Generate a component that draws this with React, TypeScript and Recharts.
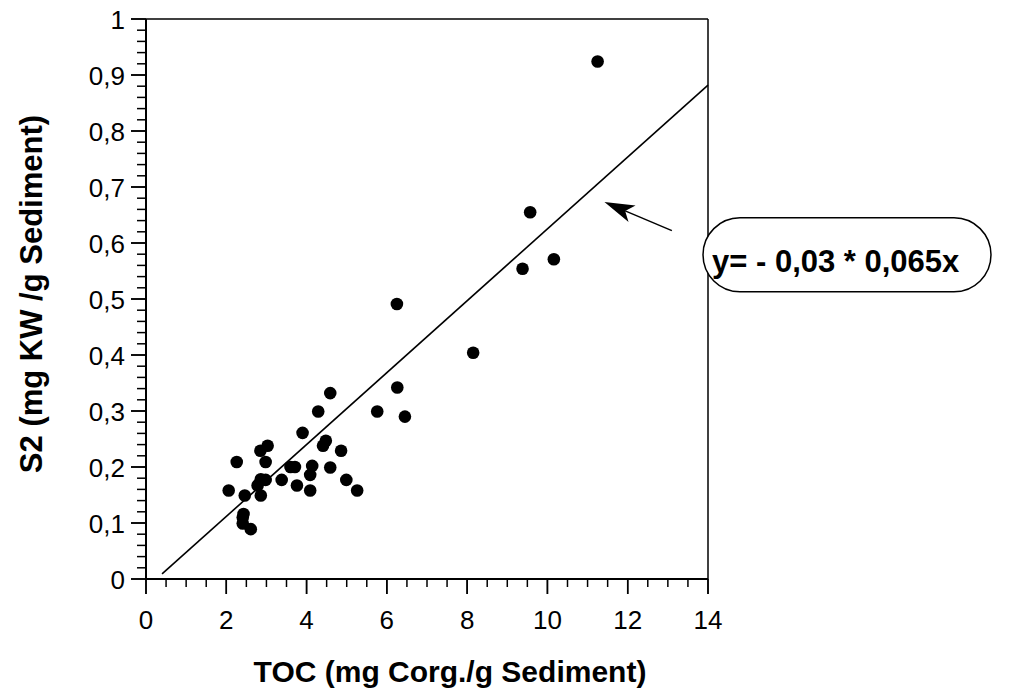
import React from 'react';
import {
  ScatterChart,
  Scatter,
  XAxis,
  YAxis,
  ReferenceLine,
  ReferenceDot,
} from 'recharts';

// TOC (mg Corg./g Sediment) of each sample
const tocValues = [
  4.59, 4.29, 3.9, 4.48, 4.41, 4.86, 3.03, 2.85, 2.26, 2.98,
  3.6, 3.71, 4.14, 4.59, 4.09, 3.38, 2.98, 2.86, 2.78, 4.99,
  3.76, 4.09, 5.26, 2.06, 2.46, 2.86, 2.43, 2.41, 2.41, 2.61,
  6.25, 8.15, 6.26, 5.76, 6.45, 11.25, 9.57, 10.16, 9.38,
];

// S2 (mg KW /g Sediment) of each sample
const s2Values = [
  0.332, 0.299, 0.261, 0.247, 0.238, 0.229, 0.238, 0.229, 0.209, 0.209,
  0.2, 0.2, 0.202, 0.199, 0.186, 0.177, 0.177, 0.178, 0.167, 0.177,
  0.167, 0.158, 0.158, 0.158, 0.149, 0.149, 0.116, 0.11, 0.099, 0.089,
  0.491, 0.404, 0.342, 0.299, 0.29, 0.924, 0.655, 0.571, 0.554,
];

// regression line end points
const fitToc = [0.4, 14];
const fitS2 = [0.009, 0.882];

// arrow pointing at the regression line
const arrowToc = [13.1, 11.42];
const arrowS2 = [0.622, 0.673];

const equationText = 'y= - 0,03 * 0,065x';
const equationAnchor = { toc: 14, s2: 0.579 };

const xMajorTicks = [0, 2, 4, 6, 8, 10, 12, 14];
const xTickLabels = ['0', '2', '4', '6', '8', '10', '12', '14'];
const xMinorStep = 0.5;

const yMajorTicks = [0, 0.1, 0.2, 0.3, 0.4, 0.5, 0.6, 0.7, 0.8, 0.9, 1];
const yTickLabels = ['0', '0,1', '0,2', '0,3', '0,4', '0,5', '0,6', '0,7', '0,8', '0,9', '1'];
const yMinorStep = 0.02;

const xTitle = 'TOC (mg Corg./g Sediment)';
const yTitle = 'S2 (mg KW /g Sediment)';

const FONT = '"Liberation Sans", Arial, Helvetica, sans-serif';

// outward tick lengths, in axis units (about 15 px long, 8-9 px short)
const X_TICK_LONG = 0.0268;
const X_TICK_SHORT = 0.0143;
const Y_TICK_LONG = 0.374;
const Y_TICK_SHORT = 0.224;

const points = tocValues.map((toc, i) => ({ toc, s2: s2Values[i] }));

const xAllTicks = Array.from(
  { length: Math.round(xMajorTicks[xMajorTicks.length - 1] / xMinorStep) + 1 },
  (_, i) => i * xMinorStep,
);
const yAllTicks = Array.from(
  { length: Math.round(yMajorTicks[yMajorTicks.length - 1] / yMinorStep) + 1 },
  (_, i) => Math.round(i * yMinorStep * 1000) / 1000,
);

const majorIndex = (v: number, majors: number[]) =>
  majors.findIndex((m) => Math.abs(m - v) < 1e-6);

// tick labels; the axis passes the outer end of its 15 px tick line
const XLabel = (props: any) => {
  const { x, y, payload } = props;
  const idx = majorIndex(payload.value, xMajorTicks);
  return (
    <text x={x} y={y + 35} textAnchor="middle" fontSize={26} fontFamily={FONT} fill="#000">
      {idx >= 0 ? xTickLabels[idx] : ''}
    </text>
  );
};

const YLabel = (props: any) => {
  const { x, y, payload } = props;
  const idx = majorIndex(payload.value, yMajorTicks);
  return (
    <text x={x - 6} y={y + 9.5} textAnchor="end" fontSize={26} fontFamily={FONT} fill="#000">
      {idx >= 0 ? yTickLabels[idx] : ''}
    </text>
  );
};

// axis titles anchored to the middle of each axis
const XTitle = (p: any) => (
  <text
    x={p.cx + 23}
    y={p.cy + 103}
    textAnchor="middle"
    fontSize={30}
    fontWeight="bold"
    fontFamily={FONT}
    fill="#000"
  >
    {xTitle}
  </text>
);

const YTitle = (p: any) => {
  const tx = p.cx - 104;
  const ty = p.cy - 5;
  return (
    <text
      x={tx}
      y={ty}
      textAnchor="middle"
      fontSize={31}
      fontWeight="bold"
      fontFamily={FONT}
      fill="#000"
      transform={`rotate(-90, ${tx}, ${ty})`}
    >
      {yTitle}
    </text>
  );
};

const Dot = (props: any) => <circle cx={props.cx} cy={props.cy} r={6.3} fill="#000" />;

const Arrow = (props: any) => {
  const { x1, y1, x2, y2 } = props;
  const dx = x2 - x1;
  const dy = y2 - y1;
  const len = Math.sqrt(dx * dx + dy * dy);
  const ux = dx / len;
  const uy = dy / len;
  const headLen = 30;
  const headHalf = 9;
  const bx = x2 - ux * headLen;
  const by = y2 - uy * headLen;
  const p1 = `${bx - uy * headHalf},${by + ux * headHalf}`;
  const p2 = `${bx + uy * headHalf},${by - ux * headHalf}`;
  const notchX = x2 - ux * headLen * 0.75;
  const notchY = y2 - uy * headLen * 0.75;
  return (
    <g>
      <line x1={x1} y1={y1} x2={notchX} y2={notchY} stroke="#000" strokeWidth={1.5} />
      <polygon points={`${x2},${y2} ${p1} ${notchX},${notchY} ${p2}`} fill="#000" />
    </g>
  );
};

const EquationBox = (props: any) => {
  const { cx, cy } = props;
  const left = cx - 5;
  const w = 288;
  const h = 74;
  return (
    <g>
      <rect
        x={left}
        y={cy - h / 2}
        width={w}
        height={h}
        rx={37}
        ry={37}
        fill="#fff"
        stroke="#000"
        strokeWidth={1.5}
      />
      <text
        x={left + 9}
        y={cy + 17}
        textAnchor="start"
        fontSize={31}
        fontWeight="bold"
        fontFamily={FONT}
        fill="#000"
      >
        {equationText}
      </text>
    </g>
  );
};

export default function App() {
  return (
    <div style={{ position: 'absolute', left: 0, top: 0 }}>
      <ScatterChart
        width={1014}
        height={690}
        margin={{ top: 19, right: 306, bottom: 51, left: 66 }}
      >
        <XAxis
          type="number"
          dataKey="toc"
          domain={[0, 14]}
          ticks={xMajorTicks}
          interval={0}
          tickSize={15}
          tickMargin={0}
          tickLine={{ stroke: '#000', strokeWidth: 1.5 }}
          tick={<XLabel />}
          height={60}
          axisLine={{ stroke: '#000', strokeWidth: 2 }}
          allowDataOverflow
        />
        <YAxis
          type="number"
          dataKey="s2"
          domain={[0, 1]}
          ticks={yMajorTicks}
          interval={0}
          tickSize={15}
          tickMargin={0}
          tickLine={{ stroke: '#000', strokeWidth: 1.5 }}
          tick={<YLabel />}
          width={80}
          axisLine={{ stroke: '#000', strokeWidth: 2 }}
          allowDataOverflow
        />
        {xAllTicks.map((v) => (
          <ReferenceLine
            key={`xt-${v}`}
            ifOverflow="visible"
            segment={[
              { x: v, y: 0 },
              { x: v, y: -(majorIndex(v, xMajorTicks) >= 0 ? X_TICK_LONG : X_TICK_SHORT) },
            ]}
            stroke="#000"
            strokeWidth={1.5}
          />
        ))}
        {yAllTicks.map((v) => (
          <ReferenceLine
            key={`yt-${v}`}
            ifOverflow="visible"
            segment={[
              { x: 0, y: v },
              { x: -(majorIndex(v, yMajorTicks) >= 0 ? Y_TICK_LONG : Y_TICK_SHORT), y: v },
            ]}
            stroke="#000"
            strokeWidth={1.5}
          />
        ))}
        <ReferenceDot x={7} y={0} ifOverflow="visible" shape={(p: any) => <XTitle {...p} />} />
        <ReferenceDot x={0} y={0.5} ifOverflow="visible" shape={(p: any) => <YTitle {...p} />} />
        <ReferenceLine y={1} stroke="#000" strokeWidth={1.5} />
        <ReferenceLine x={14} stroke="#000" strokeWidth={1.5} />
        <ReferenceLine
          segment={[
            { x: fitToc[0], y: fitS2[0] },
            { x: fitToc[1], y: fitS2[1] },
          ]}
          stroke="#000"
          strokeWidth={1.6}
        />
        <ReferenceLine
          segment={[
            { x: arrowToc[0], y: arrowS2[0] },
            { x: arrowToc[1], y: arrowS2[1] },
          ]}
          shape={(p: any) => <Arrow {...p} />}
        />
        <ReferenceDot
          x={equationAnchor.toc}
          y={equationAnchor.s2}
          ifOverflow="visible"
          shape={(p: any) => <EquationBox {...p} />}
        />
        <Scatter data={points} isAnimationActive={false} shape={<Dot />} />
      </ScatterChart>
    </div>
  );
}
